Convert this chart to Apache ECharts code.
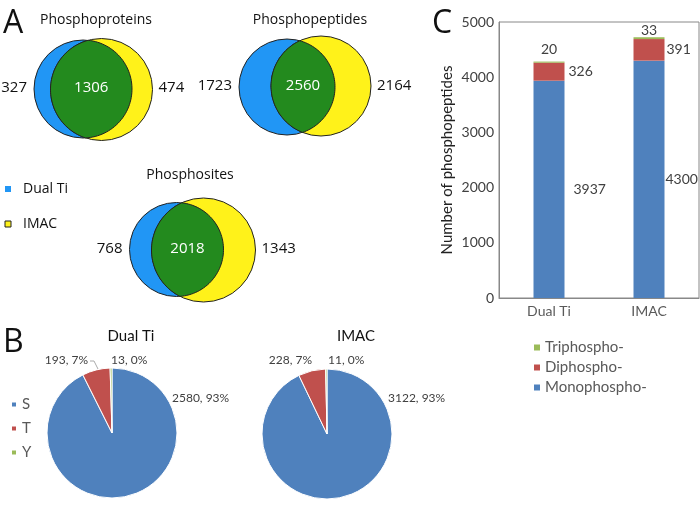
<!DOCTYPE html>
<html><head><meta charset="utf-8">
<script src="https://cdn.jsdelivr.net/npm/echarts@6/dist/echarts.min.js"></script>
<style>html,body{margin:0;padding:0;background:#fff}#c{width:700px;height:510px}</style>
</head><body><div id="c"></div>
<script>
// ---- data ----
const vennTitles = ['Phosphoproteins', 'Phosphopeptides', 'Phosphosites'];
const vennDualOnly = [327, 1723, 768];
const vennShared = [1306, 2560, 2018];
const vennImacOnly = [474, 2164, 1343];
const vennLegend = ['Dual Ti', 'IMAC'];

const pieTitles = ['Dual Ti', 'IMAC'];
const residues = ['S', 'T', 'Y'];
const pieDualTi = [2580, 193, 13];
const pieIMAC = [3122, 228, 11];

const barCategories = ['Dual Ti', 'IMAC'];
const monoVals = [3937, 4300];
const diVals = [326, 391];
const triVals = [20, 33];
const yTicks = [0, 1000, 2000, 3000, 4000, 5000];

// ---- layout / styles ----
const FONT = '"Open Sans", sans-serif';
const XFONT = 'Lato, "Open Sans", sans-serif';
const vennLayout = [
  {b: [83, 89, 49], y: [101.5, 89.5, 51], t: [96, 20]},
  {b: [287, 87, 48], y: [321, 86, 50], t: [310, 20]},
  {b: [176.5, 249.5, 47], y: [203.5, 250, 52], t: [190, 175]}
];
const BLUE = '#2196F5', YEL = '#FFF21A', GRN = '#238A1E';

function lensPoints(c1, c2) {
  const dx = c2[0] - c1[0], dy = c2[1] - c1[1];
  const d = Math.sqrt(dx * dx + dy * dy);
  const a = (c1[2] * c1[2] - c2[2] * c2[2] + d * d) / (2 * d);
  const h = Math.sqrt(c1[2] * c1[2] - a * a);
  const mx = c1[0] + a * dx / d, my = c1[1] + a * dy / d;
  const p1 = [mx - h * dy / d, my + h * dx / d];
  const p2 = [mx + h * dy / d, my - h * dx / d];
  const top = p1[1] < p2[1] ? p1 : p2, bot = p1[1] < p2[1] ? p2 : p1;
  const pts = [];
  const N = 60;
  let a0 = Math.atan2(top[1] - c2[1], top[0] - c2[0]);
  let a1 = Math.atan2(bot[1] - c2[1], bot[0] - c2[0]) - 2 * Math.PI;
  for (let k = 0; k <= N; k++) {
    const t = a0 + (a1 - a0) * k / N;
    pts.push([c2[0] + c2[2] * Math.cos(t), c2[1] + c2[2] * Math.sin(t)]);
  }
  a0 = Math.atan2(bot[1] - c1[1], bot[0] - c1[0]);
  a1 = Math.atan2(top[1] - c1[1], top[0] - c1[0]);
  for (let k = 1; k < N; k++) {
    const t = a0 + (a1 - a0) * k / N;
    pts.push([c1[0] + c1[2] * Math.cos(t), c1[1] + c1[2] * Math.sin(t)]);
  }
  return pts;
}

const graphics = [];
function txt(x, y, s, size, color, align, font) {
  graphics.push({type: 'text', x: x, y: y, style: {text: s, font: size + 'px ' + (font || FONT), fill: color, textAlign: align || 'center', textVerticalAlign: 'middle'}});
}
vennTitles.forEach((t, i) => {
  const L = vennLayout[i];
  graphics.push({type: 'circle', shape: {cx: L.b[0], cy: L.b[1], r: L.b[2]}, style: {fill: BLUE, stroke: '#222', lineWidth: 1}});
  graphics.push({type: 'circle', shape: {cx: L.y[0], cy: L.y[1], r: L.y[2]}, style: {fill: YEL, stroke: '#222', lineWidth: 1}});
  graphics.push({type: 'polygon', shape: {points: lensPoints(L.b, L.y)}, style: {fill: GRN, stroke: '#222', lineWidth: 1}});
  txt(L.t[0], L.t[1], t, 14, '#111');
  const midX = ((L.y[0] - L.y[2]) + (L.b[0] + L.b[2])) / 2;
  txt(midX, L.b[1] - 1, String(vennShared[i]), 15, '#fff');
  txt(L.b[0] - L.b[2] - 7, L.b[1] - 1, String(vennDualOnly[i]), 15, '#111', 'right');
  txt(L.y[0] + L.y[2] + 6, L.b[1] - 1, String(vennImacOnly[i]), 15, '#111', 'left');
});
graphics.push({type: 'rect', shape: {x: 5, y: 186, width: 6, height: 6}, style: {fill: BLUE}});
graphics.push({type: 'rect', shape: {x: 5, y: 221, width: 6, height: 6}, style: {fill: YEL, stroke: '#222', lineWidth: 1}});
txt(23, 189, vennLegend[0], 14, '#111', 'left');
txt(23, 224, vennLegend[1], 14, '#111', 'left');
txt(3, 24, 'A', 32, '#111', 'left');
txt(3, 343, 'B', 32, '#111', 'left');
txt(432, 24, 'C', 32, '#111', 'left');
txt(131, 336, pieTitles[0], 15, '#111', 'center', XFONT);
txt(356, 336, pieTitles[1], 15, '#111', 'center', XFONT);

const pieCenters = [[112, 433], [327, 434]];
const pieLabelPos = [
  [[60, -35, 'left'], [-24, -73, 'right'], [-1, -73, 'left']],
  [[61, -36, 'left'], [-15, -74, 'right'], [1, -74, 'left']]
];
const resColors = ['#4F81BD', '#C0504D', '#9BBB59'];

function makePie(idx, vals) {
  const c = pieCenters[idx];
  return {
    type: 'pie', name: pieTitles[idx], center: c, radius: 65, startAngle: 90, clockwise: true,
    percentPrecision: 0, avoidLabelOverlap: false, animation: false,
    itemStyle: {borderColor: '#fff', borderWidth: 1},
    label: {show: true, formatter: '{c}, {d}%', fontSize: 12, color: '#404040', fontFamily: XFONT},
    labelLine: {show: false},
    data: residues.map((r, k) => ({
      name: r, value: vals[k], itemStyle: {color: resColors[k]},
      labelLine: {show: idx === 0 && k === 1, lineStyle: {color: '#aaa', width: 1}}
    })),
    labelLayout: function (p) {
      const o = pieLabelPos[idx][p.dataIndex];
      const res = {x: c[0] + o[0], y: c[1] + o[1], align: o[2], verticalAlign: 'middle'};
      if (idx === 0 && p.dataIndex === 1) {
        res.labelLinePoints = [[c[0] + o[0] + 2, c[1] + o[1] + 1], [c[0] + o[0] + 6, c[1] + o[1] + 1], [c[0] - 14, c[1] - 64]];
      }
      return res;
    }
  };
}

const barColors = ['#4F81BD', '#C0504D', '#9BBB59'];
const labelStyle = {fontSize: 14, color: '#404040', fontFamily: XFONT};

const option = {
  animation: false,
  graphic: graphics,
  legend: [
    {data: residues, orient: 'vertical', left: 5, top: 392, itemWidth: 6, itemHeight: 6, itemGap: 9, icon: 'rect',
     textStyle: {fontSize: 15, color: '#595959', fontFamily: XFONT}, selectedMode: false},
    {data: ['Triphospho-', 'Diphospho-', 'Monophospho-'], orient: 'vertical', left: 529, top: 335, itemWidth: 6, itemHeight: 6, itemGap: 5, icon: 'rect',
     textStyle: {fontSize: 15, color: '#595959', fontFamily: XFONT}, selectedMode: false}
  ],
  grid: {left: 499, top: 22, width: 200, height: 276, show: true, borderColor: '#888', borderWidth: 1},
  xAxis: {type: 'category', data: barCategories, axisTick: {show: false},
    axisLine: {lineStyle: {color: '#888'}},
    axisLabel: {fontSize: 14, color: '#595959', fontFamily: XFONT, margin: 6}},
  yAxis: {type: 'value', min: yTicks[0], max: yTicks[yTicks.length - 1], interval: 1000,
    name: 'Number of phosphopeptides', nameLocation: 'middle', nameGap: 44,
    nameTextStyle: {fontSize: 15, color: '#222', fontFamily: XFONT},
    axisLine: {show: true, lineStyle: {color: '#888'}}, axisTick: {show: false}, splitLine: {show: false},
    axisLabel: {fontSize: 14, color: '#404040', fontFamily: XFONT, margin: 5, formatter: v => String(v)}},
  series: [
    makePie(0, pieDualTi),
    makePie(1, pieIMAC),
    {type: 'bar', name: 'Monophospho-', stack: 'p', barWidth: 31, itemStyle: {color: barColors[0]},
     data: monoVals.map((v, i) => ({value: v, label: {distance: i === 0 ? 9 : 1}})),
     label: Object.assign({show: true, position: 'right'}, labelStyle)},
    {type: 'bar', name: 'Diphospho-', stack: 'p', barWidth: 31, itemStyle: {color: barColors[1]},
     data: diVals.map((v, i) => ({value: v, label: {distance: i === 0 ? 4 : 2}})),
     label: Object.assign({show: true, position: 'right'}, labelStyle)},
    {type: 'bar', name: 'Triphospho-', stack: 'p', barWidth: 31, itemStyle: {color: barColors[2]},
     data: triVals.map((v, i) => ({value: v, label: {distance: i === 0 ? 5 : 0}})),
     label: Object.assign({show: true, position: 'top'}, labelStyle)}
  ]
};
const chart = echarts.init(document.getElementById('c'), null, {renderer: 'canvas'});
chart.setOption(option);
</script></body></html>
